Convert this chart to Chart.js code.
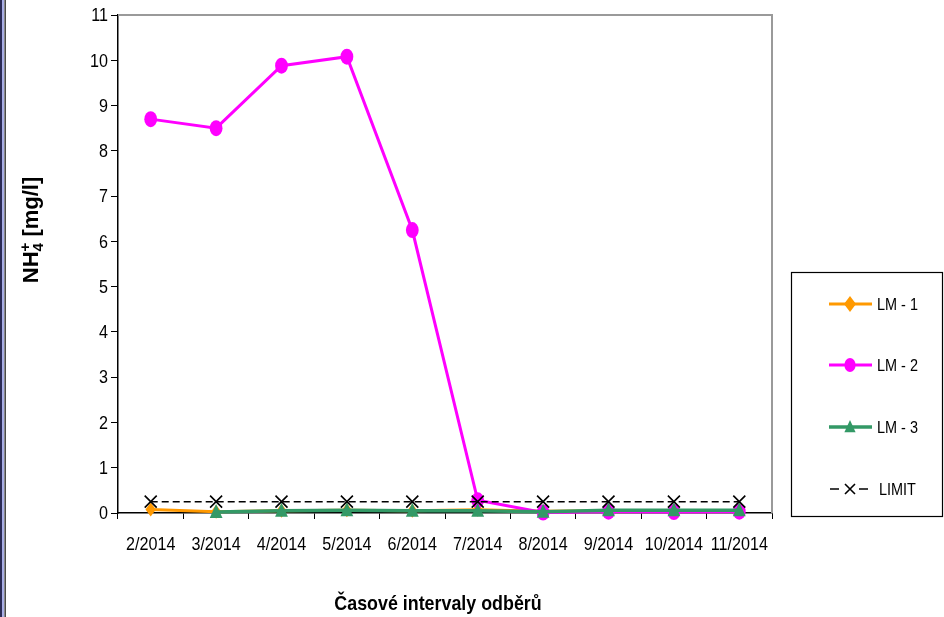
<!DOCTYPE html>
<html>
<head>
<meta charset="utf-8">
<script src="https://cdn.jsdelivr.net/npm/chart.js@4.4.1/dist/chart.umd.min.js"></script>
<style>
  html, body { margin: 0; padding: 0; background: #ffffff; }
  #wrap { width: 944px; height: 617px; position: relative; overflow: hidden; }
  canvas { display: block; }
</style>
</head>
<body>
<div id="wrap"><canvas id="chart" width="944" height="617"></canvas></div>
<script>
// Sampling months
const months = ['2/2014', '3/2014', '4/2014', '5/2014', '6/2014', '7/2014', '8/2014', '9/2014', '10/2014', '11/2014'];

// NH4+ concentrations [mg/l] per monitoring well
const lm1 = [0.08, 0.03, 0.05, 0.06, 0.05, 0.07, 0.04, 0.05, 0.05, 0.05];
const lm2 = [8.7, 8.5, 9.88, 10.08, 6.25, 0.28, 0.01, 0.03, 0.02, 0.03];
const lm3 = [null, 0.02, 0.05, 0.06, 0.05, 0.05, 0.03, 0.06, 0.06, 0.06];
const limit = [0.25, 0.25, 0.25, 0.25, 0.25, 0.25, 0.25, 0.25, 0.25, 0.25];

// Value axis
const yMin = 0;
const yMax = 11;
const yStep = 1;

const seriesNames = ['LM - 1', 'LM - 2', 'LM - 3', 'LIMIT'];
const xTitle = 'Časové intervaly odběrů';

const FONT = "'Liberation Sans', Arial, sans-serif";
const SQUEEZE = 0.85;   // horizontal text compression

const ORANGE = '#FF9900';
const MAGENTA = '#FF00FF';
const GREEN = '#339966';

// text drawn slightly condensed horizontally
function narrowText(ctx, text, x, y, font, align, baseline) {
  ctx.save();
  ctx.font = font;
  ctx.textAlign = align;
  ctx.textBaseline = baseline || 'middle';
  ctx.fillStyle = '#000';
  ctx.translate(x, y);
  ctx.scale(SQUEEZE, 1);
  ctx.fillText(text, 0, 0);
  ctx.restore();
}

function drawMarker(ctx, style, x, y, r, color) {
  ctx.save();
  ctx.fillStyle = color;
  ctx.strokeStyle = color;
  ctx.beginPath();
  if (style === 'rectRot') {
    ctx.moveTo(x, y - r); ctx.lineTo(x + r * 0.75, y); ctx.lineTo(x, y + r); ctx.lineTo(x - r * 0.75, y);
    ctx.closePath(); ctx.fill();
  } else if (style === 'circle') {
    ctx.ellipse(x, y, r * 0.8, r, 0, 0, Math.PI * 2); ctx.fill();
  } else if (style === 'triangle') {
    ctx.moveTo(x, y - r); ctx.lineTo(x + r * 0.8, y + r * 0.75); ctx.lineTo(x - r * 0.8, y + r * 0.75);
    ctx.closePath(); ctx.fill();
  } else if (style === 'crossRot') {
    ctx.lineWidth = 1.6;
    ctx.moveTo(x - r, y - r); ctx.lineTo(x + r, y + r);
    ctx.moveTo(x + r, y - r); ctx.lineTo(x - r, y + r);
    ctx.stroke();
  }
  ctx.restore();
}

// Frame, window edge, tick labels, axis titles and the boxed legend
const decorPlugin = {
  id: 'decor',
  beforeDraw(chart) {
    const ctx = chart.ctx;
    ctx.save();
    ctx.fillStyle = '#ffffff';
    ctx.fillRect(0, 0, chart.width, chart.height);
    // window edge on the left
    ctx.fillStyle = '#2b2b55'; ctx.fillRect(0, 0, 2, chart.height);
    ctx.fillStyle = '#a9aee6'; ctx.fillRect(2, 0, 2, chart.height);
    ctx.fillStyle = '#8a8a8a'; ctx.fillRect(4, 0, 1, chart.height);
    ctx.fillStyle = '#4a4a4a'; ctx.fillRect(5, 0, 1, chart.height);
    ctx.restore();
  },
  beforeDatasetsDraw(chart) {
    const ctx = chart.ctx;
    const a = chart.chartArea;
    ctx.save();
    ctx.strokeStyle = '#9a9a9a';
    ctx.lineWidth = 2;
    ctx.beginPath();
    ctx.moveTo(a.left, a.top);
    ctx.lineTo(a.right, a.top);
    ctx.lineTo(a.right, a.bottom);
    ctx.stroke();
    ctx.restore();
  },
  afterDraw(chart) {
    const ctx = chart.ctx;
    const xs = chart.scales.x;
    const ys = chart.scales.y;

    // tick labels from the scales' own ticks
    xs.ticks.forEach((t, i) => {
      narrowText(ctx, xs.getLabelForValue(t.value), xs.getPixelForTick(i), 545, '19px ' + FONT, 'center');
    });
    ys.ticks.forEach((t, i) => {
      narrowText(ctx, String(t.label), ys.left + ys.width - 10, ys.getPixelForTick(i) + 1, '19px ' + FONT, 'right');
    });

    // x axis title
    narrowText(ctx, xTitle, 438, 604, 'bold 21px ' + FONT, 'center');

    // y axis title with subscript and superscript
    ctx.save();
    ctx.fillStyle = '#000';
    ctx.translate(30, 230);
    ctx.rotate(-Math.PI / 2);
    const big = 'bold 22px ' + FONT;
    const small = 'bold 15px ' + FONT;
    ctx.font = big; const w1 = ctx.measureText('NH').width; const w3 = ctx.measureText(' [mg/l]').width;
    ctx.font = small; const w2 = Math.max(ctx.measureText('4').width, ctx.measureText('+').width);
    let x = -(w1 + w2 + w3) / 2;
    const base = 8;
    ctx.textAlign = 'left';
    ctx.textBaseline = 'alphabetic';
    ctx.font = big; ctx.fillText('NH', x, base); x += w1;
    ctx.font = small; ctx.fillText('4', x, base + 5); ctx.fillText('+', x, base - 8); x += w2;
    ctx.font = big; ctx.fillText(' [mg/l]', x, base);
    ctx.restore();

    // legend
    ctx.save();
    ctx.strokeStyle = '#000';
    ctx.lineWidth = 1.2;
    ctx.strokeRect(791.5, 272.5, 151, 244);
    const rows = [304, 365, 427, 489];
    chart.data.datasets.forEach((ds, i) => {
      const y = rows[i];
      ctx.save();
      ctx.strokeStyle = ds.borderColor;
      ctx.lineWidth = ds.borderWidth;
      ctx.beginPath();
      if (ds.borderDash) {
        ctx.moveTo(830, y); ctx.lineTo(839, y);
        ctx.moveTo(859, y); ctx.lineTo(868, y);
      } else {
        ctx.moveTo(829, y); ctx.lineTo(872, y);
      }
      ctx.stroke();
      ctx.restore();
      drawMarker(ctx, ds.pointStyle, 850, y, ds.legendR, ds.pointBackgroundColor);
      narrowText(ctx, ds.label, ds.borderDash ? 879 : 877, y + 1, '17px ' + FONT, 'left');
    });
    ctx.restore();
  }
};

// point shapes drawn at the dataset's own element positions
const markerPlugin = {
  id: 'markers',
  afterDatasetDraw(chart, args) {
    const ds = chart.data.datasets[args.index];
    const ctx = chart.ctx;
    args.meta.data.forEach((pt, j) => {
      if (ds.data[j] === null || ds.data[j] === undefined) return;
      drawMarker(ctx, ds.pointStyle, pt.x, pt.y, ds.markR, ds.pointBackgroundColor);
    });
  }
};

const ctx = document.getElementById('chart').getContext('2d');
new Chart(ctx, {
  type: 'line',
  data: {
    labels: months,
    datasets: [
      { label: seriesNames[0], data: lm1, borderColor: ORANGE, pointBackgroundColor: ORANGE, borderWidth: 3,
        pointStyle: 'rectRot', pointRadius: 0, markR: 7, legendR: 8, order: 3, clip: false },
      { label: seriesNames[1], data: lm2, borderColor: MAGENTA, pointBackgroundColor: MAGENTA, borderWidth: 3,
        pointStyle: 'circle', pointRadius: 0, markR: 8, legendR: 7, order: 2, clip: false },
      { label: seriesNames[2], data: lm3, borderColor: GREEN, pointBackgroundColor: GREEN, borderWidth: 3.5,
        pointStyle: 'triangle', pointRadius: 0, markR: 8, legendR: 7, order: 1, clip: false },
      { label: seriesNames[3], data: limit, borderColor: '#000000', pointBackgroundColor: '#000000', borderWidth: 1.5,
        borderDash: [7, 4], pointStyle: 'crossRot', pointRadius: 0, markR: 6, legendR: 5, order: 0, clip: false }
    ]
  },
  options: {
    responsive: false,
    animation: false,
    devicePixelRatio: 1,
    layout: { padding: { top: 15, right: 172, bottom: 0, left: 0 } },
    plugins: { legend: { display: false }, tooltip: { enabled: false } },
    elements: { line: { tension: 0 } },
    scales: {
      x: {
        type: 'category',
        offset: true,
        grid: { offset: true, drawOnChartArea: false, drawTicks: true, tickLength: 6, color: '#000', lineWidth: 1 },
        border: { display: true, color: '#000', width: 1.5 },
        ticks: { display: false, autoSkip: false, maxRotation: 0, minRotation: 0 },
        afterFit(scale) { scale.height = 104; }
      },
      y: {
        min: yMin, max: yMax,
        grid: { drawOnChartArea: false, drawTicks: true, tickLength: 7, color: '#000', lineWidth: 1 },
        border: { display: true, color: '#000', width: 1.5 },
        ticks: { display: false, stepSize: yStep },
        afterFit(scale) { scale.width = 118; }
      }
    }
  },
  plugins: [decorPlugin, markerPlugin]
});
</script>
</body>
</html>
